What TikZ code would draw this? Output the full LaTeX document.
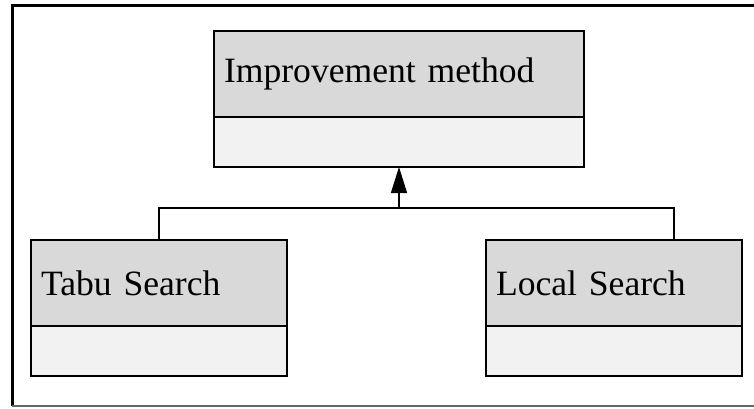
\documentclass[tikz,border=0pt]{standalone}
\usepackage{fontspec}
\setmainfont{Liberation Serif}
\usepackage{tikz}
\usetikzlibrary{
  positioning,
  arrows.meta
}
\definecolor{headgray}{RGB}{217,217,217}
\definecolor{bodygray}{RGB}{242,242,242}

\begin{document}
\begin{tikzpicture}[
  x=0.5pt, y=-0.5pt,
  >={Triangle[width=8pt,length=13pt]},
  head/.style={draw, fill=headgray, line width=0.75pt, outer sep=0pt,
               minimum height=43pt, inner xsep=5pt, align=left,
               font=\fontsize{17.8}{21}\selectfont},
  body/.style={draw, fill=bodygray, line width=0.75pt, outer sep=0pt,
               minimum height=25pt},
  link/.style={line width=0.75pt},
]
\useasboundingbox (0,0) rectangle (754,408);

% outer frame, its right side runs off the page
\draw[line width=1.5pt] (770,5) -- (12,5) -- (12,406);
\draw[line width=0.6pt, black!60] (12,406) -- (770,406);

\node[head, anchor=north west, text width=175pt] (imp) at (214,31) {Improvement method};
\node[body, below=0pt of imp, minimum width=185pt] (impbody) {};

\node[head, anchor=north west, text width=118pt] (tabu) at (31,240) {Tabu Search};
\node[body, below=0pt of tabu, minimum width=128pt] (tabubody) {};

\node[head, right=99.5pt of tabu, text width=118pt] (local) {Local Search};
\node[body, below=0pt of local, minimum width=128pt] (localbody) {};

\coordinate (join) at (399,208);
\coordinate (localtop) at ([xshift=94pt]local.north west);

\draw[link, ->] (join) -- (impbody.south);
\draw[link] (tabu.north) |- (join) -| (localtop);

\end{tikzpicture}
\end{document}
